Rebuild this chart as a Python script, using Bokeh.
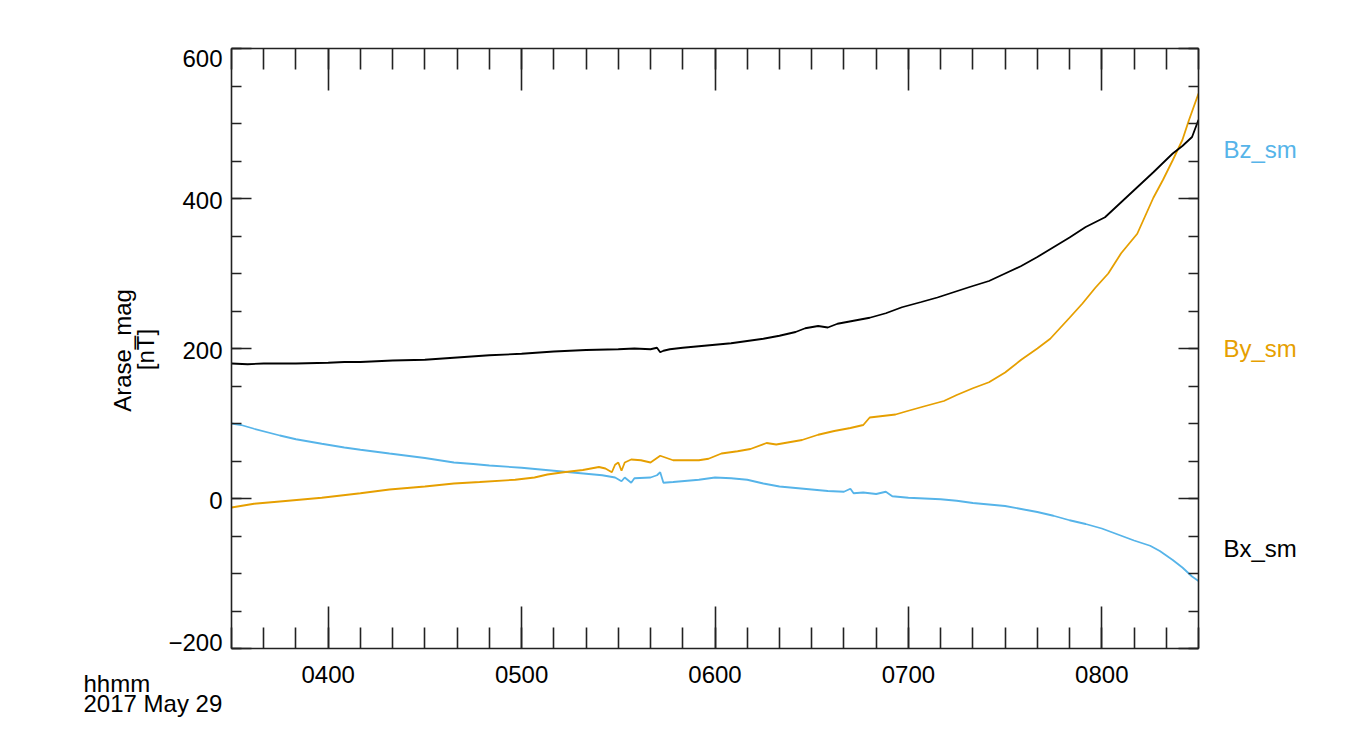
import math
from bokeh.plotting import figure
from bokeh.layouts import row
from bokeh.models import FixedTicker, LinearAxis, Range1d, ColumnDataSource
from bokeh.core.properties import value
from bokeh.embed import file_html
from bokeh.resources import INLINE

# ---------------- data ----------------
bx_time = ["03:30", "03:35", "03:40", "03:50", "04:00", "04:05", "04:10", "04:20", "04:30",
           "04:40", "04:50", "05:00", "05:10", "05:20", "05:30", "05:35", "05:40", "05:42",
           "05:43", "05:44", "05:46", "05:50", "05:55", "06:00", "06:05", "06:10", "06:15",
           "06:20", "06:25", "06:28", "06:32", "06:35", "06:38", "06:43", "06:48", "06:53",
           "06:58", "07:04", "07:09", "07:14", "07:19", "07:25", "07:30", "07:35", "07:40",
           "07:45", "07:50", "07:55", "08:01", "08:06", "08:11", "08:16", "08:22", "08:25",
           "08:28", "08:30"]
bx_val = [180, 179, 180, 180, 181, 182, 182, 184, 185,
          188, 191, 193, 196, 198, 199, 200, 199, 201,
          195, 197, 199, 201, 203, 205, 207, 210, 213,
          217, 222, 227, 230, 228, 233, 237, 241, 247,
          255, 262, 268, 275, 282, 290, 300, 310, 322,
          335, 348, 362, 375, 395, 415, 435, 460, 470,
          482, 505]

by_time = ["03:30", "03:37", "03:45", "03:58", "04:10", "04:19", "04:30", "04:39", "04:47",
           "04:58", "05:04", "05:08", "05:13", "05:19", "05:24", "05:26", "05:28", "05:29",
           "05:30", "05:31", "05:32", "05:34", "05:37", "05:40", "05:43", "05:47", "05:55",
           "05:58", "06:02", "06:07", "06:11", "06:16", "06:19", "06:23", "06:27", "06:32",
           "06:37", "06:42", "06:46", "06:48", "06:52", "06:56", "07:00", "07:05", "07:11",
           "07:15", "07:20", "07:25", "07:30", "07:35", "07:40", "07:44", "07:50", "07:54",
           "07:58", "08:02", "08:06", "08:11", "08:16", "08:19", "08:22", "08:25", "08:27",
           "08:30"]
by_val = [-12, -7, -4, 1, 7, 12, 16, 20, 22,
          25, 28, 32, 35, 38, 42, 40, 35, 45,
          48, 37, 48, 52, 51, 48, 57, 51, 51,
          53, 60, 63, 66, 74, 72, 75, 78, 85,
          90, 94, 98, 108, 110, 112, 117, 123, 130,
          138, 147, 155, 168, 185, 200, 213, 241, 260,
          281, 300, 327, 353, 401, 425, 451, 478, 504,
          540]

bz_time = ["03:30", "03:33", "03:37", "03:45", "03:50", "03:58", "04:05", "04:10", "04:19",
           "04:30", "04:39", "04:45", "04:50", "05:00", "05:10", "05:20", "05:25", "05:29",
           "05:31", "05:32", "05:34", "05:35", "05:40", "05:42", "05:43", "05:44", "05:47",
           "05:55", "06:00", "06:05", "06:10", "06:15", "06:20", "06:25", "06:30", "06:35",
           "06:40", "06:42", "06:43", "06:46", "06:50", "06:53", "06:55", "07:00", "07:05",
           "07:10", "07:15", "07:20", "07:25", "07:30", "07:35", "07:40", "07:45", "07:50",
           "07:55", "08:00", "08:05", "08:10", "08:15", "08:18", "08:22", "08:25", "08:28",
           "08:30"]
bz_val = [100, 98, 93, 84, 79, 73, 68, 65, 60,
          54, 48, 46, 44, 41, 37, 33, 31, 28,
          23, 28, 21, 27, 28, 31, 35, 21, 22,
          25, 28, 27, 25, 20, 16, 14, 12, 10,
          9, 13, 7, 8, 6, 9, 3, 1, 0,
          -1, -3, -6, -8, -10, -14, -18, -23, -29,
          -34, -40, -48, -56, -63, -70, -82, -92, -104,
          -110]

x_major = ["04:00", "05:00", "06:00", "07:00", "08:00"]
x_major_labels = ["0400", "0500", "0600", "0700", "0800"]
y_major = [-200, 0, 200, 400, 600]
y_major_labels = ["\u2212200", "0", "200", "400", "600"]
series_labels = ["Bz_sm", "By_sm", "Bx_sm"]
series_label_y = [465, 200, -67]
y_title = ["Arase_mag", "[nT]"]
x_caption = ["hhmm", "2017 May 29"]

# ---------------- styling / layout ----------------
FONT = "Liberation Sans"
FSIZE = "24px"
BLUE = "#56B4E9"
ORANGE = "#E69F00"
BLACK = "#000000"
AXC = "#222222"
series_colors = [BLUE, ORANGE, BLACK]


def to_min(s):
    h, m = s.split(":")
    return int(h) * 60 + int(m)


x_lo, x_hi = to_min("03:30"), to_min("08:30")
y_lo, y_hi = -200, 600

# pixel geometry of the plot box
FL, FT, FW, FH, BB = 231, 48, 967, 600, 70
H = FT + FH + BB
WL = 226                     # width of the left text strip
UPP = (y_hi - y_lo) / FH     # data units per pixel (vertical)

yr_shared = Range1d(y_lo, y_hi)

p = figure(frame_width=FW, frame_height=FH,
           min_border_left=FL - WL, min_border_right=5,
           min_border_top=FT, min_border_bottom=BB,
           x_range=Range1d(x_lo, x_hi), y_range=yr_shared,
           x_axis_location=None, y_axis_location=None,
           output_backend="svg", toolbar_location=None)
p.grid.visible = False
p.outline_line_color = None
p.background_fill_color = "white"
p.border_fill_color = "white"

xt = [to_min(t) for t in x_major]
x_minor = list(range(x_lo, x_hi + 1, 10))
y_minor = list(range(y_lo, y_hi + 1, 50))


def style_axis(ax, maj_len, min_len, labels):
    ax.major_tick_in = maj_len
    ax.major_tick_out = 0
    ax.minor_tick_in = min_len
    ax.minor_tick_out = 0
    ax.axis_line_color = AXC
    ax.axis_line_width = 1.6
    ax.major_tick_line_color = AXC
    ax.major_tick_line_width = 1.6
    ax.minor_tick_line_color = AXC
    ax.minor_tick_line_width = 1.6
    ax.major_label_text_font = FONT
    ax.major_label_text_font_size = FSIZE
    ax.major_label_text_color = BLACK
    if not labels:
        ax.major_label_text_font_size = "0px"
        ax.major_label_standoff = 0


# bottom (with labels)
xb = LinearAxis(ticker=FixedTicker(ticks=xt, minor_ticks=x_minor),
                major_label_overrides={t: l for t, l in zip(xt, x_major_labels)})
style_axis(xb, 42, 21, True)
xb.major_label_standoff = 17
p.add_layout(xb, "below")
# top
xa = LinearAxis(ticker=FixedTicker(ticks=xt, minor_ticks=x_minor),
                major_label_overrides={t: "" for t in xt})
style_axis(xa, 42, 21, False)
p.add_layout(xa, "above")
# left (ticks; its labels are drawn in the left strip, on the same y scale)
yl = LinearAxis(ticker=FixedTicker(ticks=y_major, minor_ticks=y_minor),
                major_label_overrides={t: "" for t in y_major})
style_axis(yl, 20, 10, False)
p.add_layout(yl, "left")
# right
yr = LinearAxis(ticker=FixedTicker(ticks=y_major, minor_ticks=y_minor),
                major_label_overrides={t: "" for t in y_major})
style_axis(yr, 20, 10, False)
p.add_layout(yr, "right")

# lines
p.line([to_min(t) for t in bz_time], bz_val, line_color=BLUE, line_width=1.8)
p.line([to_min(t) for t in by_time], by_val, line_color=ORANGE, line_width=1.8)
p.line([to_min(t) for t in bx_time], bx_val, line_color=BLACK, line_width=1.8)

# ---- left strip: same vertical data scale, frame over the whole canvas height
lf = figure(width=WL, height=H, min_border=0,
            x_range=Range1d(0, WL), y_range=Range1d(y_lo, y_hi),
            x_axis_location=None, y_axis_location=None,
            output_backend="svg", toolbar_location=None)
lf.grid.visible = False
lf.outline_line_color = None
lf.border_fill_color = "white"
lf.background_fill_color = "white"
try:
    lf.frame_align = False        # do not snap this strip's frame to the plot box
    free_frame = True
except Exception:
    free_frame = False

if free_frame:
    lf.y_range = Range1d(y_lo - BB * UPP, y_hi + FT * UPP)
else:
    lf.min_border_top = FT
    lf.min_border_bottom = BB


def py(pix):  # canvas pixel row -> data value on the shared vertical scale
    return y_hi - (pix - FT) * UPP


cap_rows = [py(683), py(703)] if free_frame else [py(622), py(642)]

lbl_offsets = [-6, 2, 2, 2, 10]   # IDL keeps the end labels inside the box
lf.text(x=[FL - 9] * len(y_major), y=y_major, text=y_major_labels,
        y_offset=lbl_offsets,
        text_font=value(FONT), text_font_size=value(FSIZE), text_color=BLACK,
        text_align="right", text_baseline="middle")
lf.text(x=[122, 145], y=[py(350), py(349)], text=y_title, angle=math.pi / 2,
        text_font=value(FONT), text_font_size=value(FSIZE), text_color=BLACK,
        text_align="center", text_baseline="alphabetic")
lf.text(x=[83, 83], y=cap_rows, text=x_caption,
        text_font=value(FONT), text_font_size=value(FSIZE), text_color=BLACK,
        text_align="left", text_baseline="alphabetic")

# ---- right strip: series labels on the shared y range
rf = figure(frame_width=150, frame_height=FH,
            min_border_left=0, min_border_right=0,
            min_border_top=FT, min_border_bottom=BB,
            x_range=Range1d(0, 150), y_range=yr_shared,
            x_axis_location=None, y_axis_location=None,
            output_backend="svg", toolbar_location=None)
rf.grid.visible = False
rf.outline_line_color = None
rf.border_fill_color = "white"
src = ColumnDataSource(dict(x=[20] * 3, y=series_label_y, t=series_labels, c=series_colors))
rf.text(x="x", y="y", text="t", text_color="c", source=src,
        text_font=value(FONT), text_font_size=value(FSIZE),
        text_align="left", text_baseline="alphabetic")

layout = row(lf, p, rf, spacing=0)
open("out.html", "w").write(file_html(layout, INLINE))
